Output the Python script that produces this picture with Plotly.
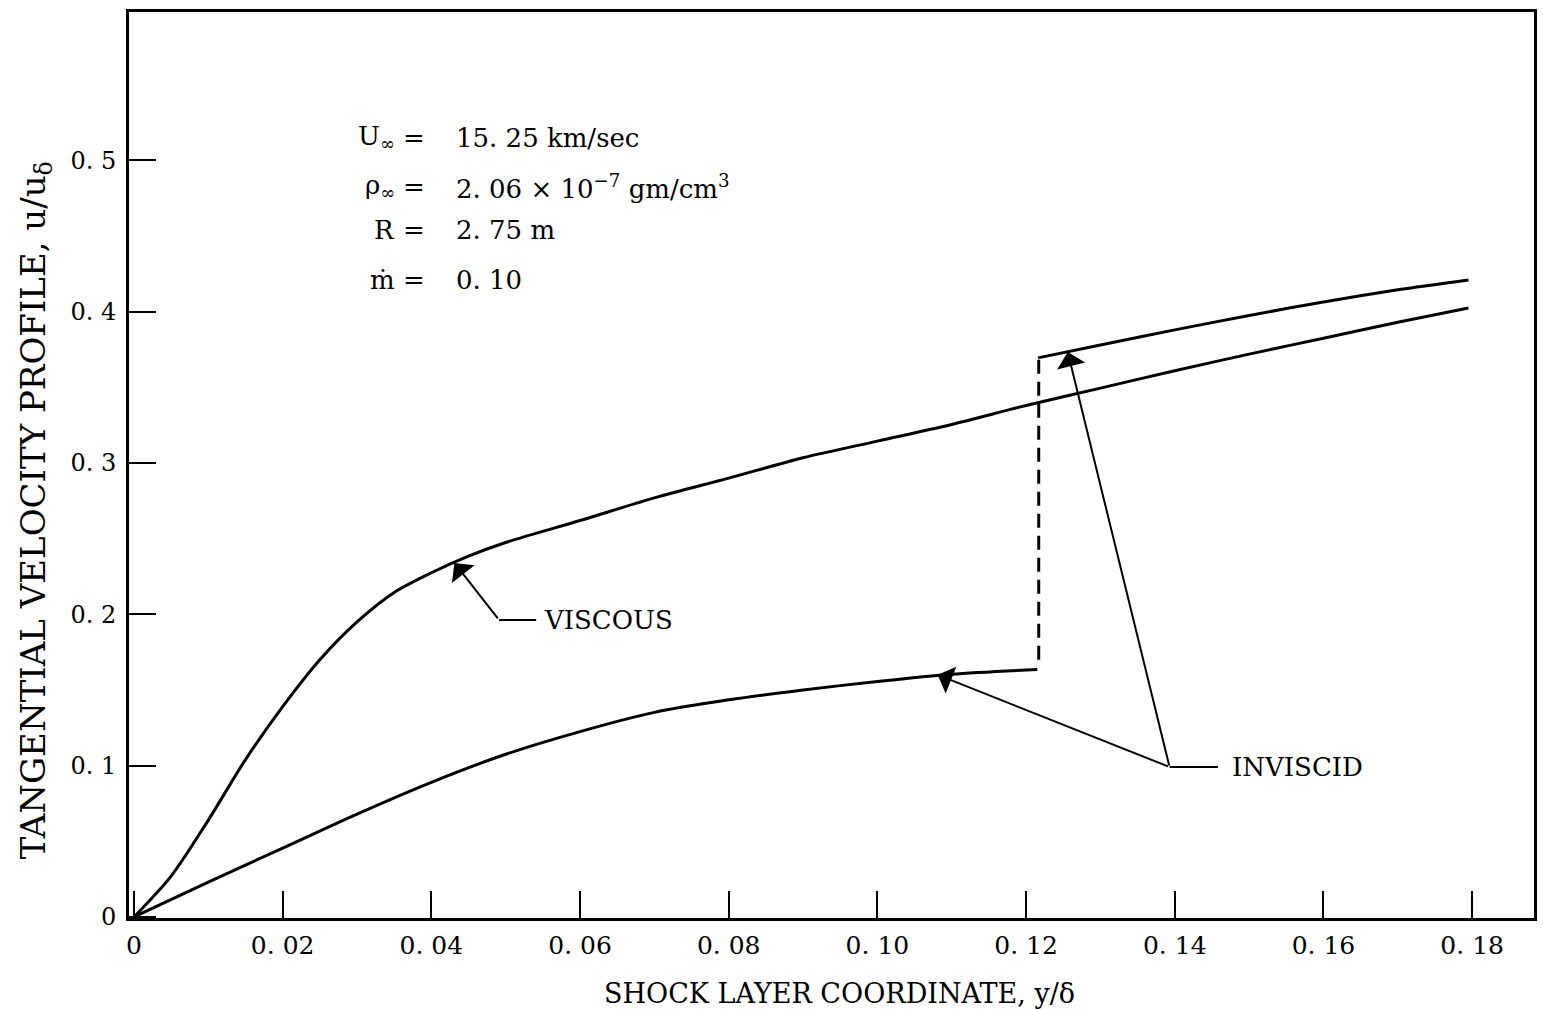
import plotly.graph_objects as go

# ---------------- data ----------------
viscous_x = [0, 0.005, 0.010, 0.015, 0.020, 0.025, 0.030, 0.035, 0.040, 0.045,
             0.050, 0.060, 0.070, 0.080, 0.090, 0.100, 0.110, 0.120, 0.130,
             0.140, 0.150, 0.160, 0.170, 0.1795]
viscous_y = [0, 0.027, 0.064, 0.104, 0.139, 0.170, 0.195, 0.2145, 0.2275, 0.2385,
             0.2475, 0.262, 0.277, 0.290, 0.3035, 0.3145, 0.3255, 0.338, 0.3495,
             0.361, 0.372, 0.3825, 0.393, 0.4025]

inviscid_low_x = [0, 0.010, 0.020, 0.030, 0.040, 0.050, 0.060, 0.070, 0.080,
                  0.090, 0.100, 0.110, 0.1215]
inviscid_low_y = [0, 0.023, 0.0455, 0.068, 0.089, 0.1075, 0.1225, 0.1352, 0.1435,
                  0.1500, 0.1556, 0.1604, 0.1635]

inviscid_high_x = [0.1216, 0.130, 0.140, 0.150, 0.160, 0.170, 0.1795]
inviscid_high_y = [0.3695, 0.378, 0.388, 0.3975, 0.4065, 0.4145, 0.4210]

jump_x = [0.1217, 0.1217]
jump_y = [0.1700, 0.3695]

x_tickvals = [0, 0.02, 0.04, 0.06, 0.08, 0.10, 0.12, 0.14, 0.16, 0.18]
x_ticktext = ["0", "0. 02", "0. 04", "0. 06", "0. 08", "0. 10", "0. 12", "0. 14", "0. 16", "0. 18"]
y_tickvals = [0, 0.1, 0.2, 0.3, 0.4, 0.5]
y_ticktext = ["0", "0. 1", "0. 2", "0. 3", "0. 4", "0. 5"]

param_symbols = ["U<sub>∞</sub>", "ρ<sub>∞</sub>", "R", "ṁ"]
param_values = ["15. 25 km/sec", "2. 06 × 10<sup>−7</sup> gm/cm<sup>3</sup>", "2. 75 m", "0. 10"]

# ---------------- figure ----------------
FONT = "DejaVu Serif"
fig = go.Figure()

line_style = dict(color="black", width=3, shape="spline", smoothing=0.8)
fig.add_trace(go.Scatter(x=viscous_x, y=viscous_y, mode="lines", line=line_style))
fig.add_trace(go.Scatter(x=inviscid_low_x, y=inviscid_low_y, mode="lines", line=line_style))
fig.add_trace(go.Scatter(x=inviscid_high_x, y=inviscid_high_y, mode="lines", line=line_style))
fig.add_trace(go.Scatter(x=jump_x, y=jump_y, mode="lines",
                         line=dict(color="black", width=3, dash="14px,8px")))

annotations = []

# parameter block
param_rows_y = [0.5149, 0.4825, 0.4541, 0.4210]
for sym, val, yy in zip(param_symbols, param_values, param_rows_y):
    annotations.append(dict(x=0.0354, y=yy, xref="x", yref="y", text=sym,
                            showarrow=False, xanchor="right", yanchor="middle",
                            font=dict(family=FONT, size=26, color="black")))
    annotations.append(dict(x=0.0376, y=yy, xref="x", yref="y", text="=",
                            showarrow=False, xanchor="center", yanchor="middle",
                            font=dict(family=FONT, size=26, color="black")))
    annotations.append(dict(x=0.0431, y=yy, xref="x", yref="y", text=val,
                            showarrow=False, xanchor="left", yanchor="middle",
                            font=dict(family=FONT, size=26, color="black")))

arrow = dict(showarrow=True, arrowhead=1, arrowsize=2.4, arrowwidth=2,
             arrowcolor="black", axref="x", ayref="y", xref="x", yref="y",
             text="", standoff=0, startstandoff=0)

# VISCOUS label
annotations.append(dict(**arrow, x=0.0431, y=0.2340, ax=0.0491, ay=0.1963))
annotations.append(dict(x=0.0549, y=0.1963, xref="x", yref="y", text="VISCOUS",
                        showarrow=False, xanchor="left", yanchor="middle",
                        font=dict(family=FONT, size=26, color="black")))
# INVISCID label
annotations.append(dict(**arrow, x=0.1081, y=0.1600, ax=0.1393, ay=0.0991))
annotations.append(dict(**arrow, x=0.1256, y=0.3734, ax=0.1393, ay=0.0991))
annotations.append(dict(x=0.1474, y=0.0991, xref="x", yref="y", text="INVISCID",
                        showarrow=False, xanchor="left", yanchor="middle",
                        font=dict(family=FONT, size=26, color="black")))

# axis titles
annotations.append(dict(x=0.5057, y=-0.083, xref="paper", yref="paper",
                        text="SHOCK LAYER COORDINATE, y/δ", showarrow=False,
                        xanchor="center", yanchor="middle",
                        font=dict(family=FONT, size=27, color="black")))
annotations.append(dict(x=-0.067, y=0.45, xref="paper", yref="paper",
                        text="TANGENTIAL VELOCITY PROFILE, u/u<sub>δ</sub>",
                        showarrow=False, textangle=-90,
                        xanchor="center", yanchor="middle",
                        font=dict(family=FONT, size=34, color="black")))

shapes = [
    dict(type="line", xref="x", yref="y", x0=0.0491, y0=0.1963, x1=0.0541, y1=0.1963,
         line=dict(color="black", width=2)),
    dict(type="line", xref="x", yref="y", x0=0.1393, y0=0.0991, x1=0.1458, y1=0.0991,
         line=dict(color="black", width=2)),
]

fig.update_layout(
    width=1543, height=1009,
    margin=dict(l=129, r=6, t=12, b=91),
    paper_bgcolor="white", plot_bgcolor="white",
    showlegend=False,
    annotations=annotations,
    shapes=shapes,
    font=dict(family=FONT, size=24, color="black"),
)
fig.update_xaxes(range=[-0.00067, 0.18832], tickvals=x_tickvals, ticktext=x_ticktext,
                 ticks="inside", ticklen=27, tickwidth=2, tickcolor="black",
                 showline=True, linewidth=3, linecolor="black", mirror=True,
                 showgrid=False, zeroline=False, ticklabelstandoff=3,
                 tickfont=dict(family=FONT, size=25, color="black"))
fig.update_yaxes(range=[-0.0007, 0.5981], tickvals=y_tickvals, ticktext=y_ticktext,
                 ticks="inside", ticklen=27, tickwidth=2, tickcolor="black",
                 showline=True, linewidth=3, linecolor="black", mirror=True,
                 showgrid=False, zeroline=False, ticklabelstandoff=5,
                 tickfont=dict(family=FONT, size=24, color="black"))

fig.write_html("out.html")
